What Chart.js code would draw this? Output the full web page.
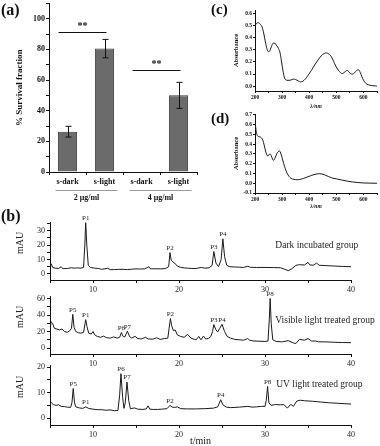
<!DOCTYPE html>
<html>
<head>
<meta charset="utf-8">
<script src="https://cdn.jsdelivr.net/npm/chart.js@4.4.1/dist/chart.umd.min.js"></script>
<style>
html, body { margin: 0; padding: 0; background: #fff; }
#wrap { position: relative; width: 380px; height: 446px; overflow: hidden; font-family: "Liberation Serif", serif; }
#wrap canvas { position: absolute; left: 0; top: 0; }
.tag { position: absolute; font-weight: bold; color: #111; line-height: 1; }
</style>
</head>
<body>
<div id="wrap">
  <canvas id="chartA" width="380" height="446"></canvas>
  <canvas id="chartC" width="380" height="446"></canvas>
  <canvas id="chartD" width="380" height="446"></canvas>
  <canvas id="chartB1" width="380" height="446"></canvas>
  <canvas id="chartB2" width="380" height="446"></canvas>
  <canvas id="chartB3" width="380" height="446"></canvas>
  <div class="tag" style="left:1px;top:2px;font-size:16px">(a)</div>
  <div class="tag" style="left:1px;top:208px;font-size:16px">(b)</div>
  <div class="tag" style="left:211px;top:2px;font-size:15px">(c)</div>
  <div class="tag" style="left:211px;top:111px;font-size:15px">(d)</div>
</div>
<script>
// (a) survival
var survivalCats = ['s-dark', 's-light', 's-dark', 's-light'];
var survivalMeans = [26.3, 80.5, 0, 50];
var survivalErrors = [3.5, 6, 0, 8.5];
var groupLabels = ['2 μg/ml', '4 μg/ml'];
var groupSpans = [[0, 1], [2, 3]];
var sigPairs = [[0, 1], [2, 3]];
var sigLevels = [91.5, 66.5];
var sigMarks = ['**', '**'];

// (c) and (d) absorption spectra  [nm, absorbance]
var spectrumC = [[200,0.50],[206,0.52],[213,0.525],[220,0.51],[226,0.49],[232,0.44],[238,0.37],[244,0.31],
  [249,0.285],[254,0.29],[260,0.325],[267,0.355],[273,0.355],[280,0.335],[287,0.31],[293,0.27],[298,0.2],
  [303,0.13],[308,0.075],[314,0.052],[322,0.048],[332,0.05],[342,0.058],[350,0.055],[360,0.042],[368,0.035],
  [376,0.04],[386,0.06],[396,0.09],[408,0.13],[420,0.175],[432,0.215],[444,0.25],[455,0.27],[463,0.275],
  [470,0.27],[478,0.255],[486,0.225],[494,0.185],[502,0.15],[512,0.12],[520,0.105],[527,0.108],[534,0.125],
  [540,0.13],[546,0.12],[553,0.102],[560,0.1],[567,0.11],[575,0.13],[582,0.135],[588,0.115],[594,0.08],
  [600,0.05],[608,0.025],[618,0.012],[630,0.005],[645,0.002],[650,0.0]];
var spectrumD = [[200,0.66],[203,0.56],[207,0.5],[212,0.48],[218,0.475],[224,0.465],[229,0.44],[234,0.39],
  [239,0.33],[244,0.29],[248,0.277],[252,0.295],[256,0.298],[260,0.282],[265,0.245],[269,0.235],[274,0.26],
  [280,0.3],[286,0.325],[291,0.33],[296,0.3],[301,0.25],[306,0.2],[312,0.148],[318,0.105],[325,0.072],
  [333,0.05],[343,0.04],[355,0.036],[367,0.04],[380,0.05],[395,0.066],[410,0.082],[425,0.094],[437,0.098],
  [447,0.095],[458,0.085],[470,0.07],[483,0.055],[500,0.045],[520,0.033],[540,0.022],[560,0.013],[580,0.007],
  [600,0.003],[625,0.001],[650,0.0]];

// (b) chromatograms  [t/min, mAU]
var darkTrace = [[5.0,4.5],[5.15,7.0],[5.3,4.5],[5.6,4.0],[6.0,3.8],[6.3,5.0],[6.5,3.6],[7.0,3.8],[7.5,4.3],
  [7.8,4.0],[8.2,4.2],[8.6,4.0],[8.9,4.5],[9.05,20],[9.15,35.5],[9.28,20],[9.45,6],[9.7,4.5],[10.2,4.0],
  [10.6,3.8],[11.0,3.2],[11.7,3.9],[12.0,3.0],[12.5,3.0],[13.0,3.2],[13.5,3.2],[14.0,3.0],[14.5,3.3],[15.0,3.5],
  [15.5,3.4],[16.0,3.5],[16.5,5.0],[16.7,3.5],[17.2,3.6],[17.8,3.5],[18.4,3.7],[18.8,5],[18.95,14.8],[19.1,9.5],
  [19.25,8.5],[19.5,7.5],[19.8,5.5],[20.2,4.5],[20.6,4.2],[21.0,4.0],[21.5,3.8],[22.0,3.8],[22.6,4.5],[23.0,4.0],
  [23.5,4.2],[23.85,6],[24.05,15.5],[24.3,7.5],[24.6,5.0],[24.9,10],[25.1,24.3],[25.3,12],[25.55,6.0],[25.9,5.0],
  [26.5,4.8],[27.0,4.7],[27.5,4.5],[28.0,5.3],[28.3,4.6],[29.0,4.5],[30.0,4.5],[31.0,4.4],[31.8,4.3],[32.3,3.2],
  [32.7,2.3],[33.1,3.5],[33.6,6.0],[34.0,6.4],[34.6,6.2],[35.0,8.0],[35.2,6.3],[35.6,6.0],[36.0,7.5],[36.3,6.0],
  [37.0,5.8],[38.0,5.5],[39.0,5.2],[40.0,5.0]];
var visibleTrace = [[5.0,28],[5.1,32],[5.3,30],[5.5,24],[5.8,23],[6.1,22],[6.4,23],[6.7,20],[7.0,19],[7.3,21],
  [7.5,24],[7.65,40.8],[7.8,25],[8.0,20],[8.3,18.5],[8.6,18],[8.9,19],[9.05,28],[9.15,34.4],[9.3,26],[9.5,18],
  [9.8,17],[10.0,20],[10.2,16],[10.5,14],[10.9,13],[11.2,14.5],[11.6,12.5],[12.0,12],[12.4,13.5],[12.8,12],
  [13.1,13],[13.3,18.8],[13.5,14],[13.7,13.5],[14.0,20.4],[14.25,14],[14.5,12],[14.9,14.2],[15.2,11.5],[15.6,11],
  [16.1,13],[16.4,11],[17.0,10.8],[17.4,12.5],[17.8,10.5],[18.3,11.5],[18.7,12],[18.85,24],[19.0,35.6],[19.15,27],
  [19.35,21],[19.55,22],[19.8,16],[20.2,14],[20.6,13],[21.0,16.5],[21.4,12],[21.8,10.5],[22.0,10],[22.3,14],
  [22.55,10],[22.85,14.5],[23.1,11],[23.4,11.5],[23.7,14],[23.9,20],[24.05,28.4],[24.3,22],[24.5,19.5],[24.75,24],
  [25.0,28.8],[25.3,20],[25.6,14],[26.0,12],[26.5,10.5],[27.0,10],[27.5,9.5],[28.0,11.5],[28.2,9.5],[28.7,8.5],
  [29.3,8.3],[30.0,8.0],[30.35,8.5],[30.5,35],[30.6,60],[30.72,30],[30.9,10],[31.3,8.0],[32.0,7.5],[32.7,9.0],
  [33.3,6.2],[33.6,5.5],[34.0,10.5],[34.6,9.5],[35.0,11.5],[35.4,8.5],[35.9,8.5],[36.2,7.5],[37.0,7.5],[38.0,7.0],
  [39.0,6.7],[40.0,6.5]];
var uvTrace = [[5.0,5.5],[5.15,6.0],[5.4,5.3],[5.7,5.0],[6.0,5.2],[6.3,4.6],[6.7,4.5],[7.0,4.3],[7.4,4.2],
  [7.55,6],[7.7,11.6],[7.85,6],[8.0,4.4],[8.4,4.0],[8.8,3.8],[9.15,4.4],[9.5,3.8],[10.0,3.5],[10.5,3.3],[11.0,3.3],
  [11.5,3.1],[12.0,3.2],[12.5,2.9],[12.9,3.0],[13.1,9],[13.25,17.4],[13.45,8],[13.6,3.8],[13.75,6],[13.95,14.1],
  [14.15,7],[14.35,3.6],[14.8,4.0],[15.2,3.5],[15.8,3.4],[16.2,3.6],[16.4,4.8],[16.6,3.5],[17.0,3.4],[17.5,3.4],
  [18.0,3.5],[18.6,3.7],[18.95,5.0],[19.2,4.3],[19.5,4.2],[19.8,4.4],[20.2,3.7],[21.0,3.6],[22.0,3.6],[23.0,3.7],
  [24.0,3.9],[24.5,4.4],[24.85,7.2],[25.1,5.2],[25.5,4.3],[26.0,4.1],[27.0,4.3],[28.0,4.6],[28.5,4.3],[29.0,4.4],
  [29.6,4.6],[30.0,4.6],[30.15,7],[30.3,12.4],[30.45,6],[30.7,5.0],[31.2,5.3],[31.8,5.2],[32.2,5.3],[32.6,3.9],
  [33.0,5.4],[33.3,4.6],[33.7,6.7],[34.1,7.0],[34.6,6.8],[35.5,6.6],[36.5,6.3],[37.5,6.0],[38.5,5.8],[40.0,5.5]];

var darkPeaks = ['P1', 'P2', 'P3', 'P4'];
var darkPeakTimes = [9.15, 18.95, 24.05, 25.1];
var visiblePeaks = ['P5', 'P1', 'P6', 'P7', 'P2', 'P3', 'P4', 'P8'];
var visiblePeakTimes = [7.65, 9.15, 13.3, 14.0, 19.0, 24.05, 25.0, 30.6];
var uvPeaks = ['P5', 'P1', 'P6', 'P7', 'P2', 'P4', 'P8'];
var uvPeakTimes = [7.7, 9.15, 13.25, 13.95, 18.95, 24.85, 30.3];

Chart.defaults.font.family = '"Liberation Serif", "Times New Roman", serif';
Chart.defaults.color = '#111';

var W = 380, H = 446;
var ink = '#1a1a1a';

// chart area [left, top, right, bottom], y axis width, x axis height
function layoutFor(area, yW, xH) {
    return { padding: { left: area[0] - yW, top: area[1], right: W - area[2], bottom: H - area[3] - xH } };
}
function toPoints(pairs) {
    return pairs.map(function (p) { return { x: p[0], y: p[1] }; });
}

var survivalPlugin = {
    id: 'survivalExtras',
    afterDatasetsDraw: function (chart) {
        var ctx = chart.ctx, area = chart.chartArea, x = chart.scales.x, y = chart.scales.y;
        ctx.save();
        ctx.strokeStyle = '#111';
        ctx.lineWidth = 1;
        // error bars
        survivalMeans.forEach(function (m, i) {
            var e = survivalErrors[i];
            if (!e) return;
            var px = Math.round(x.getPixelForValue(i)) + 0.5;
            var top = y.getPixelForValue(m + e), bot = y.getPixelForValue(m - e);
            ctx.beginPath();
            ctx.moveTo(px, top); ctx.lineTo(px, bot);
            ctx.moveTo(px - 3, top); ctx.lineTo(px + 3, top);
            ctx.moveTo(px - 3, bot); ctx.lineTo(px + 3, bot);
            ctx.stroke();
        });
        // significance bars
        ctx.font = 'bold 10px "Liberation Serif"';
        ctx.textAlign = 'center';
        ctx.textBaseline = 'alphabetic';
        ctx.fillStyle = '#111';
        sigPairs.forEach(function (pair, i) {
            var yy = Math.round(y.getPixelForValue(sigLevels[i])) + 0.5;
            var x0 = x.getPixelForValue(pair[0]) - 9, x1 = x.getPixelForValue(pair[1]) + 2;
            ctx.beginPath();
            ctx.moveTo(x0, yy); ctx.lineTo(x1, yy);
            ctx.stroke();
            ctx.fillText(sigMarks[i], (x0 + x1) / 2, yy - 4);
        });
        // dose groups under the axis
        ctx.strokeStyle = '#9a9a9a';
        ctx.font = 'bold 8px "Liberation Serif"';
        ctx.textBaseline = 'middle';
        groupLabels.forEach(function (g, i) {
            var x0 = x.getPixelForValue(groupSpans[i][0]) - 12, x1 = x.getPixelForValue(groupSpans[i][1]) + 13;
            var yy = area.bottom + 18.5;
            ctx.beginPath();
            ctx.moveTo(x0, yy); ctx.lineTo(x1, yy);
            ctx.stroke();
            ctx.fillText(g, (x0 + x1) / 2, yy + 7);
        });
        ctx.restore();
    }
};

new Chart(document.getElementById('chartA'), {
    type: 'bar',
    data: {
        labels: survivalCats,
        datasets: [{
            data: survivalMeans,
            backgroundColor: '#6b6b6b',
            borderColor: '#3a3a3a',
            borderWidth: function (c) { return c.raw > 0 ? 1 : 0; },
            barPercentage: 0.52,
            categoryPercentage: 1
        }]
    },
    options: {
        responsive: false,
        animation: false,
        layout: layoutFor([49, 3, 197, 172], 49, 20),
        plugins: { legend: { display: false }, tooltip: { enabled: false } },
        scales: {
            x: {
                afterFit: function (s) { s.height = 20; },
                grid: { drawOnChartArea: false, tickLength: 3, color: '#111' },
                border: { color: '#111', width: 1 },
                ticks: { font: { size: 8, weight: 'bold' }, padding: 2, color: '#111' }
            },
            y: {
                min: 0, max: 110,
                afterFit: function (s) { s.width = 49; },
                grid: { drawOnChartArea: false, tickLength: 3, color: '#111' },
                border: { color: '#111', width: 1 },
                ticks: {
                    stepSize: 10, maxTicksLimit: 20, padding: 1, color: '#111',
                    font: { size: 8, weight: 'bold', lineHeight: 0.6 },
                    callback: function (v) { return v % 20 === 0 ? v : ''; }
                },
                title: { display: true, text: '% Survival fraction', font: { size: 9, weight: 'bold' }, padding: { top: 14.5, bottom: 0 } }
            }
        }
    },
    plugins: [survivalPlugin]
});

function makeSpectrum(id, pairs, area, yMin, yMax, xH) {
    new Chart(document.getElementById(id), {
        type: 'line',
        data: { datasets: [{ data: toPoints(pairs), borderColor: ink, borderWidth: 1, pointRadius: 0, cubicInterpolationMode: 'monotone' }] },
        options: {
            responsive: false,
            animation: false,
            layout: layoutFor(area, 30, xH),
            plugins: { legend: { display: false }, tooltip: { enabled: false } },
            scales: {
                x: {
                    type: 'linear', min: 200, max: 650,
                    afterFit: function (s) { s.height = xH; },
                    grid: { drawOnChartArea: false, tickLength: 2, color: '#111' },
                    border: { color: '#111', width: 1 },
                    ticks: {
                        stepSize: 50, autoSkip: false, maxRotation: 0, maxTicksLimit: 20, padding: 1, color: '#111',
                        font: { size: 5.5, weight: 'bold' },
                        callback: function (v) { return v % 100 === 0 ? v : ''; }
                    },
                    title: { display: true, text: 'λ/nm', font: { size: 5.5, weight: 'bold', style: 'italic' }, padding: 0 }
                },
                y: {
                    min: yMin, max: yMax,
                    afterFit: function (s) { s.width = 30; },
                    grid: { drawOnChartArea: false, tickLength: 2, color: '#111' },
                    border: { color: '#111', width: 1 },
                    ticks: {
                        stepSize: 0.1, includeBounds: false, maxTicksLimit: 20, padding: 1, color: '#111',
                        font: { size: 5.5, weight: 'bold', lineHeight: 0.6 },
                        callback: function (v) { return v.toFixed(1); }
                    },
                    title: { display: true, text: 'Absorbance', font: { size: 6.5, weight: 'bold' }, padding: { top: 7.5, bottom: 0 } }
                }
            }
        }
    });
}

makeSpectrum('chartC', spectrumC, [255, 10, 377, 91], -0.04, 0.63, 19);
makeSpectrum('chartD', spectrumD, [255, 114, 377, 193], -0.1, 0.71, 17);

var chromPlugin = {
    id: 'chromLabels',
    afterDatasetsDraw: function (chart, args, opts) {
        var ctx = chart.ctx, area = chart.chartArea, x = chart.scales.x, y = chart.scales.y;
        var pts = chart.data.datasets[0].data;
        ctx.save();
        ctx.fillStyle = '#222';
        ctx.font = '7px "Liberation Serif"';
        ctx.textAlign = 'center';
        ctx.textBaseline = 'bottom';
        opts.names.forEach(function (name, i) {
            var t = opts.times[i], top = -Infinity;
            pts.forEach(function (p) { if (Math.abs(p.x - t) < 0.3 && p.y > top) top = p.y; });
            ctx.fillText(name, x.getPixelForValue(t), y.getPixelForValue(top) - 1);
        });
        ctx.font = '9.5px "Liberation Serif"';
        ctx.textAlign = 'left';
        ctx.textBaseline = 'middle';
        ctx.fillText(opts.group, x.getPixelForValue(opts.groupAt[0]), y.getPixelForValue(opts.groupAt[1]));
        ctx.font = '10px "Liberation Serif"';
        ctx.textAlign = 'center';
        ctx.translate(20, (area.top + area.bottom) / 2 - 8);
        ctx.rotate(-Math.PI / 2);
        ctx.fillText('mAU', 0, 0);
        ctx.restore();
    }
};

function makeChrom(id, pairs, area, yMin, yMax, yStep, xH, showTitle, labels) {
    new Chart(document.getElementById(id), {
        type: 'line',
        data: { datasets: [{ data: toPoints(pairs), borderColor: ink, borderWidth: 1, pointRadius: 0, tension: 0 }] },
        options: {
            responsive: false,
            animation: false,
            layout: layoutFor(area, 50, xH),
            plugins: { legend: { display: false }, tooltip: { enabled: false }, chromLabels: labels },
            scales: {
                x: {
                    type: 'linear', min: 5, max: 40,
                    afterFit: function (s) { s.height = xH; },
                    grid: { drawOnChartArea: false, tickLength: 3, color: '#111' },
                    border: { color: '#111', width: 1 },
                    ticks: {
                        stepSize: 5, autoSkip: false, maxRotation: 0, maxTicksLimit: 20, padding: 2, color: '#222',
                        font: { size: 8 },
                        callback: function (v) { return v % 10 === 0 ? v : ''; }
                    },
                    title: { display: showTitle, text: 't/min', font: { size: 10, lineHeight: 1 }, padding: 0 }
                },
                y: {
                    min: yMin, max: yMax,
                    afterFit: function (s) { s.width = 50; },
                    grid: { drawOnChartArea: false, tickLength: 3, color: '#111' },
                    border: { color: '#111', width: 1 },
                    ticks: {
                        stepSize: yStep, includeBounds: false, maxTicksLimit: 20, padding: 2, color: '#222',
                        font: { size: 8, lineHeight: 0.6 },
                        callback: function (v) { return v % (yStep * 2) === 0 ? v : ''; }
                    }
                }
            }
        },
        plugins: [chromPlugin]
    });
}

makeChrom('chartB1', darkTrace, [50, 222, 351, 280], -4.2, 36, 5, 14, false,
    { names: darkPeaks, times: darkPeakTimes, group: 'Dark incubated group', groupAt: [31.2, 19.7] });
makeChrom('chartB2', visibleTrace, [50, 296, 351, 354], -7.2, 63, 10, 14, false,
    { names: visiblePeaks, times: visiblePeakTimes, group: 'Visible light treated group', groupAt: [31.2, 33.6] });
makeChrom('chartB3', uvTrace, [50, 365, 351, 425], -2.7, 20.8, 5, 21, true,
    { names: uvPeaks, times: uvPeakTimes, group: 'UV light treated group', groupAt: [31.3, 13.3] });
</script>
</body>
</html>
